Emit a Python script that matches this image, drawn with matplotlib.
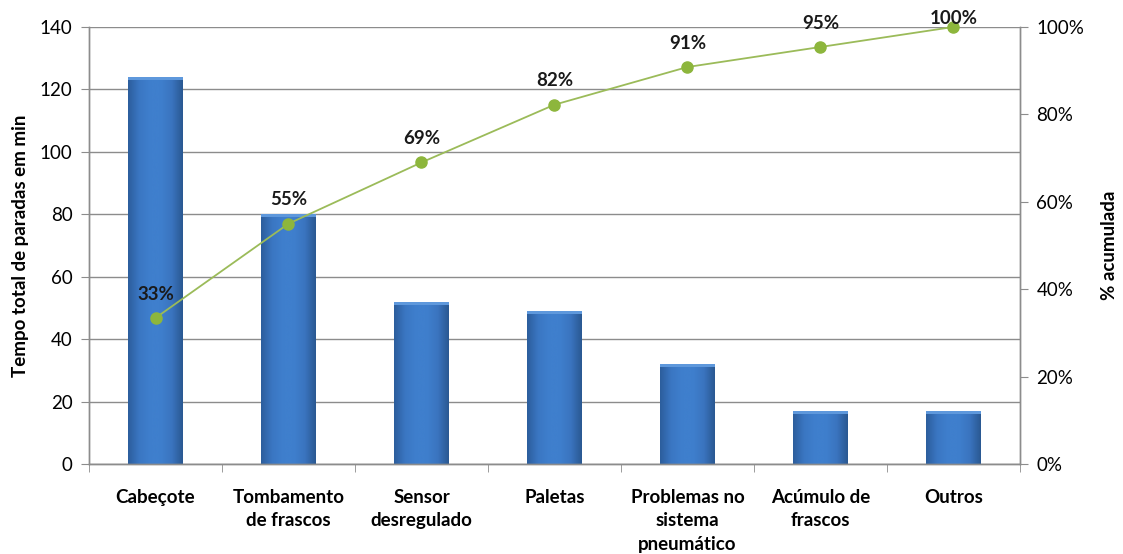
import numpy as np
import matplotlib
matplotlib.use("Agg")
import matplotlib.pyplot as plt
from matplotlib.colors import LinearSegmentedColormap
from matplotlib.patches import Rectangle

plt.rcParams['font.family'] = ['Lato', 'DejaVu Sans']

categories = ["Cabeçote", "Tombamento\nde frascos", "Sensor\ndesregulado", "Paletas",
              "Problemas no\nsistema\npneumático", "Acúmulo de\nfrascos", "Outros"]
minutes = [124, 80, 52, 49, 32, 17, 17]

cum_pct = np.cumsum(minutes) / np.sum(minutes) * 100
pct_labels = [f"{round(p):.0f}%" for p in cum_pct]

fig = plt.figure(figsize=(11.23, 5.54), dpi=100)
ax = fig.add_axes([0.0793, 0.1625, 0.8288, 0.7888])
ax2 = ax.twinx()

x = np.arange(len(categories))
bar_w = 0.41

# Bars with a horizontal shading gradient for a bevelled look
grad_cmap = LinearSegmentedColormap.from_list(
    "bevel", ["#2c5d9c", "#3a76c2", "#3f7fcd", "#3f7fcd", "#3a74bf", "#2a5891"])
grad = np.linspace(0, 1, 256).reshape(1, -1)
bars = ax.bar(x, minutes, width=bar_w, color="#3d78c4", zorder=2)
for b in bars:
    bx, by = b.get_x(), b.get_y()
    bw, bh = b.get_width(), b.get_height()
    im = ax.imshow(grad, cmap=grad_cmap, aspect="auto",
                   extent=(bx, bx + bw, by, by + bh), zorder=2.1,
                   interpolation="bicubic")
    im.set_clip_path(b)
    cap = min(1.0, bh * 0.06)
    ax.add_patch(Rectangle((bx, by + bh - cap), bw, cap, facecolor="#5e98dc",
                           edgecolor="none", zorder=2.2))
ax.set_xlim(-0.5, len(categories) - 0.5)
ax.set_ylim(0, 140)
ax2.set_ylim(0, 100)

# Grid and axes styling
ax.set_yticks(np.arange(0, 141, 20))
ax.yaxis.grid(True, color="#8c8c8c", linewidth=1.0, zorder=0)
ax.set_axisbelow(True)
ax.set_xticks(x)
ax.set_xticklabels(categories, fontsize=13.5, fontweight="bold", linespacing=1.45)
ax.xaxis.set_minor_locator(matplotlib.ticker.FixedLocator(np.arange(-0.5, len(categories), 1)))
ax.tick_params(axis="x", which="major", length=0, pad=18)
ax.tick_params(axis="x", which="minor", length=6, color="#8c8c8c", direction="out")
ax.tick_params(axis="y", length=6, color="#8c8c8c", labelsize=13.5, pad=6)

ax2.set_yticks(np.arange(0, 101, 20))
ax2.set_yticklabels([f"{v}%" for v in range(0, 101, 20)])
ax2.tick_params(axis="y", length=6, color="#8c8c8c", labelsize=13.5, pad=6)

for a in (ax, ax2):
    a.spines["top"].set_visible(False)
    for s in ("left", "right", "bottom"):
        a.spines[s].set_color("#8c8c8c")
        a.spines[s].set_linewidth(1.0)

ax.set_ylabel("Tempo total de paradas em min", fontsize=13.5, fontweight="bold", labelpad=8)
ax2.set_ylabel("% acumulada", fontsize=13.5, fontweight="bold", labelpad=12)

# Cumulative percentage line
ax2.plot(x, cum_pct, color="#9bbb59", linewidth=1.3, marker="o", markersize=8,
         markerfacecolor="#8db63c", markeredgecolor="#8db63c", zorder=5, clip_on=False)
for i, (xi, p, lab) in enumerate(zip(x, cum_pct, pct_labels)):
    dy = 0 if i == len(x) - 1 else 11
    ax2.annotate(lab, (xi, p), xytext=(0, dy), textcoords="offset points",
                 ha="center", va="bottom", fontsize=13.5, fontweight="bold", color="#1a1a1a",
                 annotation_clip=False, zorder=6)

fig.savefig("out.png", dpi=100)
